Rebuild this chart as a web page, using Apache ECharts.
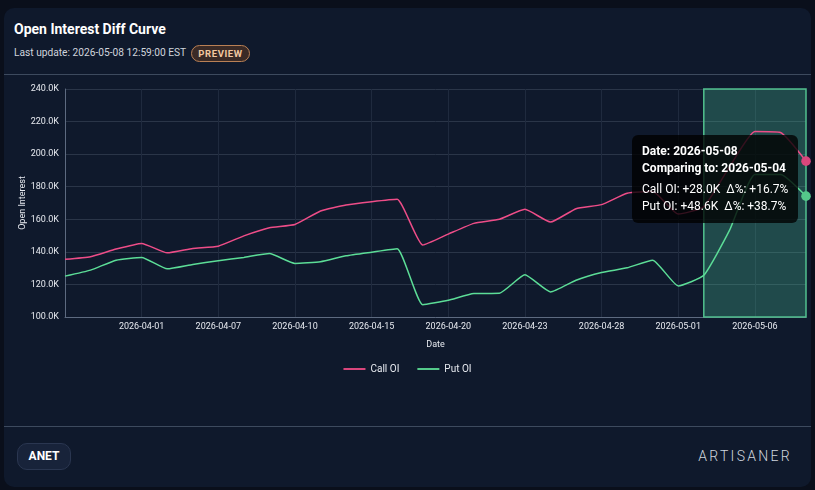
<!DOCTYPE html>
<html>
<head>
<meta charset="utf-8">
<script src="https://cdn.jsdelivr.net/npm/echarts@6/dist/echarts.min.js"></script>
<style>
  html, body { margin:0; padding:0; width:815px; height:490px; background:#0a0f1b; overflow:hidden; font-family: Roboto, "Noto Sans", sans-serif; }
  .card { position:absolute; left:4px; top:8px; width:807px; height:479px; background:#0f192c; border-radius:10px; }
  .title { position:absolute; left:14px; top:21px; color:#ffffff; font-size:14px; font-weight:700; }
  .sub { position:absolute; left:14px; top:47px; color:#cfd4dc; font-size:10.2px; }
  .badge { position:absolute; left:191px; top:45px; width:57px; height:15px; border:1px solid #b98055; border-radius:9px; background:#3a2a26; color:#f2c8a0; font-size:9.5px; font-weight:700; letter-spacing:0.6px; text-align:center; line-height:15px; }
  .sep { position:absolute; left:4px; width:807px; height:1px; background:#3d4a5e; }
  .tick { position:absolute; left:17px; top:443px; width:52px; height:25px; border:1px solid #2a3650; background:#18233a; border-radius:10px; color:#fff; font-size:12px; font-weight:700; text-align:center; line-height:25px; }
  .logo { position:absolute; right:23px; top:448px; color:#d0d5de; font-size:14px; letter-spacing:2.3px; font-weight:300; }
  #chart { position:absolute; left:0; top:0; width:815px; height:490px; }
</style>
</head>
<body>
<div class="card"></div>
<div class="title">Open Interest Diff Curve</div>
<div class="sub">Last update: 2026-05-08 12:59:00 EST</div>
<div class="badge">PREVIEW</div>
<div class="sep" style="top:74px"></div>
<div class="sep" style="top:426px"></div>
<div class="tick">ANET</div>
<div class="logo">ARTISANER</div>
<div id="chart"></div>
<script>
const dates = ['2026-03-27','2026-03-30','2026-03-31','2026-04-01','2026-04-02','2026-04-06','2026-04-07','2026-04-08','2026-04-09','2026-04-10',
  '2026-04-13','2026-04-14','2026-04-15','2026-04-16','2026-04-17','2026-04-20','2026-04-21','2026-04-22','2026-04-23','2026-04-24',
  '2026-04-27','2026-04-28','2026-04-29','2026-04-30','2026-05-01','2026-05-04','2026-05-05','2026-05-06','2026-05-07','2026-05-08'];
const callOI = [135400,137000,141700,145200,139400,142100,143500,149800,154800,156800,
  165100,168800,170800,172300,144200,150900,157500,160000,166100,158300,
  166500,169000,176000,177000,163200,167700,192000,213900,213300,195700];
const putOI = [125100,128800,134900,136600,129600,132300,134500,136600,139000,132900,
  133900,137600,139800,141900,107500,110300,114400,114600,125900,115400,
  122600,127300,130200,134900,119100,125600,153000,187500,187500,174200];
const compareDate = '2026-05-04';
const currentDate = '2026-05-08';
const yTicks = { min: 100000, max: 240000, step: 20000 };

const chart = echarts.init(document.getElementById('chart'), null, { renderer: 'canvas' });
const fmtK = v => (v / 1000).toFixed(1) + 'K';
const sgn = v => (v >= 0 ? '+' : '') ;
const cmpIdx = dates.indexOf(compareDate);
const curIdx = dates.indexOf(currentDate);
const labelFilter = i => i % 3 === 0 && i > 0;

chart.setOption({
  animation: false,
  textStyle: { fontFamily: 'Roboto' },
  grid: { left: 65, right: 9, top: 89, bottom: 173 },
  legend: {
    bottom: 111, left: 'center', itemWidth: 22, itemHeight: 2, itemGap: 18, icon: 'rect',
    textStyle: { color: '#e6e9ef', fontSize: 10 },
    data: ['Call OI', 'Put OI']
  },
  tooltip: {
    trigger: 'axis',
    triggerOn: 'none',
    alwaysShowContent: true,
    transitionDuration: 0,
    axisPointer: { type: 'line', lineStyle: { color: 'rgba(0,0,0,0)' } },
    backgroundColor: 'rgba(0,0,0,0.78)',
    borderWidth: 0,
    borderRadius: 6,
    padding: [8, 10],
    extraCssText: 'box-shadow:none;',
    position: () => [632, 135],
    formatter: params => {
      const i = params[0].dataIndex;
      const dc = callOI[i] - callOI[cmpIdx];
      const dp = putOI[i] - putOI[cmpIdx];
      const pc = dc / callOI[cmpIdx] * 100;
      const pp = dp / putOI[cmpIdx] * 100;
      const s = 'font-size:12px;color:#fff;line-height:17px;';
      return '<div style="' + s + 'font-weight:700">Date: ' + dates[i] + '</div>' +
        '<div style="' + s + 'font-weight:700;margin-bottom:4px">Comparing to: ' + compareDate + '</div>' +
        '<div style="' + s + '">Call OI: ' + sgn(dc) + fmtK(dc) + '&nbsp;&nbsp;Δ%: ' + sgn(pc) + pc.toFixed(1) + '%</div>' +
        '<div style="' + s + '">Put OI: ' + sgn(dp) + fmtK(dp) + '&nbsp;&nbsp;Δ%: ' + sgn(pp) + pp.toFixed(1) + '%</div>';
    }
  },
  xAxis: {
    type: 'category',
    boundaryGap: false,
    data: dates,
    name: 'Date',
    nameLocation: 'middle',
    nameGap: 23,
    nameMoveOverlap: false,
    nameTextStyle: { color: '#e6e9ef', fontSize: 9 },
    axisLine: { lineStyle: { color: '#5d6a80' } },
    axisTick: { show: false },
    axisLabel: { interval: labelFilter, color: '#e6e9ef', fontSize: 9, margin: 5 },
    splitLine: { show: true, interval: labelFilter, lineStyle: { color: '#1f2a3e' } }
  },
  yAxis: {
    type: 'value',
    min: yTicks.min, max: yTicks.max, interval: yTicks.step,
    name: 'Open Interest',
    nameLocation: 'middle',
    nameGap: 38,
    nameMoveOverlap: false,
    nameTextStyle: { color: '#e6e9ef', fontSize: 9 },
    axisLine: { show: true, lineStyle: { color: '#5d6a80' } },
    axisTick: { show: false },
    axisLabel: { color: '#e6e9ef', fontSize: 9, margin: 6, formatter: v => fmtK(v) },
    splitLine: { lineStyle: { color: '#2a3548' } }
  },
  series: [
    {
      name: 'Call OI', type: 'line', data: callOI, smooth: 0.15, z: 2,
      showSymbol: false, symbol: 'circle', symbolSize: 8,
      lineStyle: { color: '#d9467c', width: 1.5 },
      itemStyle: { color: '#d9467c' },
      emphasis: { scale: 1.2, lineStyle: { width: 1.5 } }
    },
    {
      name: 'Put OI', type: 'line', data: putOI, smooth: 0.15, z: 2,
      showSymbol: false, symbol: 'circle', symbolSize: 8,
      lineStyle: { color: '#54c98a', width: 1.5 },
      itemStyle: { color: '#54c98a' },
      emphasis: { scale: 1.2, lineStyle: { width: 1.5 } }
    },
    {
      name: 'Compare window', type: 'line', data: [], z: 5, silent: true,
      tooltip: { show: false },
      markArea: {
        silent: true,
        itemStyle: { color: 'rgba(74,190,150,0.3)', borderColor: '#52c08e', borderWidth: 1.5 },
        data: [[{ xAxis: compareDate }, { xAxis: currentDate }]]
      }
    }
  ]
});
chart.dispatchAction({ type: 'showTip', seriesIndex: 0, dataIndex: curIdx });
chart.dispatchAction({ type: 'highlight', seriesIndex: [0, 1], dataIndex: curIdx });
</script>
</body>
</html>
